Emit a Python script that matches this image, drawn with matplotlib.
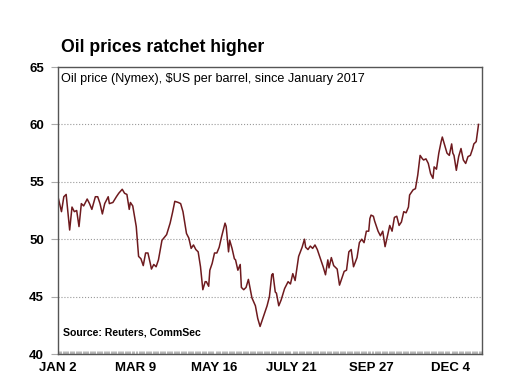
import numpy as np
import pandas as pd
import matplotlib
matplotlib.use("Agg")
import matplotlib.pyplot as plt
import matplotlib.dates as mdates

plt.rcParams['font.family'] = ['Liberation Sans', 'DejaVu Sans']

# Цена нефти (Nymex), дни от 2 января 2017
day = [0, 3, 5, 7, 10, 12, 14, 16, 18, 20, 22, 25, 27, 29, 32, 34, 36, 38, 40,
       43, 44, 47, 50, 52, 55, 57, 59, 61, 62, 64, 67, 69, 71, 73, 75, 77, 79,
       80, 82, 84, 86, 89, 93, 96, 98, 100, 103, 105, 107, 110, 112, 114, 116,
       118, 120, 122, 124, 126, 127, 129, 130, 132, 134, 136, 138, 140, 143,
       144, 146, 147, 149, 151, 152, 154, 156, 157, 159, 161, 163, 166, 169,
       171, 173, 176, 179, 181, 183, 184, 186, 187, 189, 191, 194, 197, 199,
       201, 203, 206, 209, 211, 212, 214, 216, 218, 220, 222, 224, 227, 229,
       231, 232, 234, 236, 239, 241, 243, 245, 247, 249, 251, 253, 256, 258,
       260, 262, 264, 266, 267, 268, 270, 271, 274, 276, 278, 280, 281, 284,
       286, 288, 290, 292, 294, 296, 298, 300, 301, 304, 306, 308, 310, 312,
       313, 315, 317, 319, 321, 322, 324, 326, 328, 329, 331, 333, 335, 337,
       338, 339, 341, 343, 345, 347, 349, 351, 353, 355, 356, 358, 360]
price = [53.7, 52.4, 53.7, 53.9, 50.8, 52.8, 52.4, 52.5, 51.1, 53.1, 52.9,
         53.5, 53.1, 52.6, 53.7, 53.7, 53.1, 52.2, 53.1, 53.7, 53.1, 53.2,
         53.7, 54.0, 54.35, 54.0, 53.9, 52.6, 53.2, 52.9, 51.1, 48.5, 48.3,
         47.7, 48.8, 48.8, 47.9, 47.4, 47.8, 47.6, 48.2, 49.9, 50.4, 51.4,
         52.3, 53.3, 53.2, 53.1, 52.4, 50.5, 50.1, 49.2, 49.5, 49.1, 48.9,
         47.6, 45.6, 46.3, 46.3, 45.9, 47.3, 47.9, 48.8, 48.8, 49.3, 50.2,
         51.4, 51.1, 48.9, 49.9, 49.2, 48.3, 48.2, 47.3, 47.8, 45.8, 45.6,
         45.8, 46.5, 44.9, 44.2, 43.1, 42.4, 43.3, 44.2, 45.0, 46.9, 47.0,
         45.4, 45.3, 44.2, 44.7, 45.7, 46.3, 46.1, 47.0, 46.4, 48.5, 49.3,
         50.0, 49.3, 49.1, 49.4, 49.2, 49.5, 49.1, 48.5, 47.6, 46.9, 48.2,
         47.5, 48.4, 47.7, 47.4, 46.0, 46.6, 47.2, 47.3, 48.9, 49.1, 47.6,
         48.4, 49.7, 50.0, 49.7, 50.7, 50.7, 51.8, 52.1, 52.0, 51.6, 50.7,
         50.3, 50.7, 49.35, 49.8, 51.2, 50.7, 51.9, 52.0, 51.2, 51.5, 52.4,
         52.3, 52.8, 53.85, 54.3, 54.4, 55.6, 57.3, 57.0, 56.9, 57.0, 56.6,
         55.7, 55.3, 56.3, 56.1, 57.5, 58.5, 58.9, 58.2, 57.5, 57.3, 58.3,
         57.5, 57.3, 56.0, 57.2, 57.9, 56.9, 56.6, 57.2, 57.3, 57.9, 58.3,
         58.5, 60.0]

tick_dates = ['2017-01-02', '2017-03-09', '2017-05-16', '2017-07-21',
              '2017-09-27', '2017-12-04']
tick_labels = ['JAN 2', 'MAR 9', 'MAY 16', 'JULY 21', 'SEP 27', 'DEC 4']

start = pd.Timestamp('2017-01-02')
dates = start + pd.to_timedelta(day, unit='D')

fig = plt.figure(figsize=(5.14, 3.84), dpi=100)
ax = fig.add_axes([0.1128, 0.0781, 0.825, 0.7474])

ax.plot(dates, price, color='#6e1a1e', linewidth=1.1)

ax.set_ylim(40, 65)
ax.set_yticks([40, 45, 50, 55, 60, 65])
ax.set_xlim(start, pd.Timestamp('2017-12-31'))
ax.set_xticks(pd.to_datetime(tick_dates))
ax.set_xticklabels(tick_labels)
ax.xaxis.set_minor_locator(mdates.DayLocator())

# сетка
for v in [45, 50, 55, 60]:
    ax.axhline(v, color='#9a9a9a', linestyle=':', linewidth=0.8, zorder=0)

ax.tick_params(axis='y', length=5, color='#aaaaaa', pad=5, labelsize=9.5)
ax.tick_params(axis='x', length=0, pad=6, labelsize=9.5)
ax.tick_params(axis='x', which='minor', direction='in', length=2.5,
               width=0.5, color='#999999')
for lab in ax.get_xticklabels() + ax.get_yticklabels():
    lab.set_fontweight('bold')

for s in ax.spines.values():
    s.set_color('#555555')
    s.set_linewidth(1.0)

fig.text(0.1187, 0.8646, 'Oil prices ratchet higher', fontsize=12.7,
         fontweight='bold', va='baseline', ha='left')
ax.text(0.006, 0.978, 'Oil price (Nymex), $US per barrel, since January 2017',
        transform=ax.transAxes, fontsize=9.1, va='top', ha='left')
ax.text(0.0125, 0.074, 'Source: Reuters, CommSec', transform=ax.transAxes,
        fontsize=7.6, fontweight='bold', va='center', ha='left')

fig.savefig('out.png', dpi=100)
